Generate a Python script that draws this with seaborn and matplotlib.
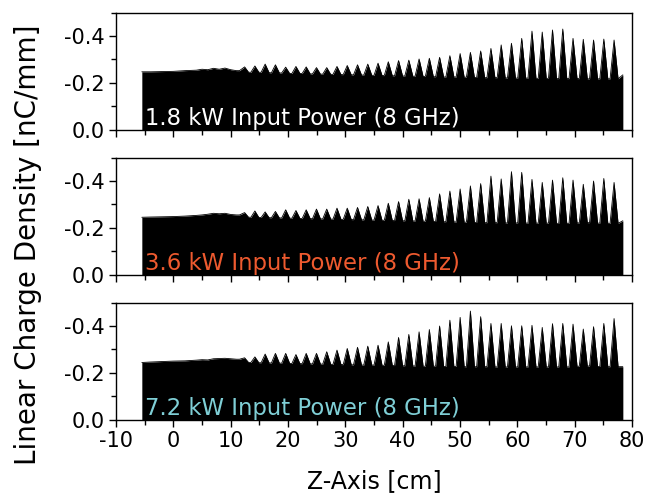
import numpy as np
import pandas as pd
import matplotlib
matplotlib.use("Agg")
import matplotlib.pyplot as plt
from matplotlib.ticker import MultipleLocator
import seaborn as sns

# ── Data ──────────────────────────────────────────────────────────────────────
# flat, slightly noisy region before the periodic spikes start
plateau_x = [-5.5, -4, -2, 0, 2, 4, 5, 6, 7, 8, 9, 10, 11]
plateau_1 = [-0.247, -0.247, -0.248, -0.249, -0.252, -0.254, -0.258, -0.256, -0.262, -0.258, -0.263, -0.256, -0.252]
plateau_2 = [-0.245, -0.246, -0.247, -0.248, -0.250, -0.253, -0.255, -0.258, -0.262, -0.260, -0.262, -0.257, -0.255]
plateau_3 = [-0.244, -0.246, -0.248, -0.250, -0.251, -0.254, -0.256, -0.255, -0.260, -0.261, -0.262, -0.260, -0.258]

# positions of the charge spikes (cm)
peak_x = [12.43, 14.22, 16.01, 17.80, 19.59, 21.38, 23.17, 24.96, 26.75, 28.54,
          30.33, 32.12, 33.91, 35.70, 37.49, 39.28, 41.07, 42.86, 44.65, 46.44,
          48.23, 50.02, 51.81, 53.60, 55.39, 57.18, 58.97, 60.76, 62.55, 64.34,
          66.13, 67.92, 69.71, 71.50, 73.29, 75.08, 76.87]

peak_1 = [-0.268, -0.272, -0.280, -0.277, -0.267, -0.270, -0.268, -0.265, -0.265, -0.270,
          -0.274, -0.277, -0.280, -0.284, -0.290, -0.295, -0.297, -0.302, -0.305, -0.309,
          -0.316, -0.325, -0.330, -0.336, -0.347, -0.362, -0.369, -0.390, -0.421, -0.417,
          -0.426, -0.430, -0.390, -0.386, -0.383, -0.387, -0.383]
peak_2 = [-0.265, -0.272, -0.268, -0.270, -0.277, -0.274, -0.277, -0.280, -0.280, -0.284,
          -0.284, -0.287, -0.291, -0.295, -0.305, -0.312, -0.322, -0.324, -0.329, -0.345,
          -0.357, -0.366, -0.379, -0.389, -0.421, -0.409, -0.440, -0.437, -0.407, -0.394,
          -0.404, -0.414, -0.404, -0.386, -0.400, -0.411, -0.394]
peak_3 = [-0.264, -0.268, -0.280, -0.283, -0.283, -0.278, -0.283, -0.283, -0.290, -0.297,
          -0.304, -0.309, -0.314, -0.318, -0.332, -0.351, -0.364, -0.375, -0.385, -0.400,
          -0.425, -0.437, -0.464, -0.440, -0.411, -0.411, -0.401, -0.401, -0.403, -0.394,
          -0.410, -0.411, -0.408, -0.387, -0.397, -0.411, -0.432]

# level between neighbouring spikes (after each spike)
valley_1 = [-0.245, -0.245, -0.243, -0.242, -0.240, -0.240, -0.238, -0.237, -0.236, -0.235,
            -0.234, -0.233, -0.232, -0.231, -0.230, -0.229, -0.228, -0.227, -0.226, -0.225,
            -0.225, -0.224, -0.223, -0.222, -0.222, -0.221, -0.220, -0.220, -0.219, -0.219,
            -0.218, -0.218, -0.218, -0.217, -0.217, -0.217, -0.217]
valley_2 = [-0.245, -0.244, -0.243, -0.242, -0.241, -0.240, -0.239, -0.238, -0.237, -0.236,
            -0.235, -0.234, -0.233, -0.232, -0.231, -0.230, -0.229, -0.228, -0.227, -0.226,
            -0.225, -0.224, -0.223, -0.222, -0.222, -0.221, -0.221, -0.220, -0.220, -0.220,
            -0.219, -0.219, -0.221, -0.222, -0.220, -0.219, -0.219]
valley_3 = [-0.244, -0.243, -0.242, -0.241, -0.240, -0.239, -0.238, -0.237, -0.236, -0.235,
            -0.234, -0.233, -0.233, -0.232, -0.231, -0.230, -0.229, -0.228, -0.228, -0.227,
            -0.227, -0.226, -0.226, -0.226, -0.225, -0.225, -0.225, -0.225, -0.225, -0.225,
            -0.225, -0.225, -0.228, -0.229, -0.227, -0.226, -0.226]

end_x = 78.4
end_y = [-0.234, -0.230, -0.226]

labels = ["1.8 kW Input Power (8 GHz)", "3.6 kW Input Power (8 GHz)", "7.2 kW Input Power (8 GHz)"]
label_colors = ["white", "#EE5a2f", "#7FCFD6"]

SPIKE_HALF_WIDTH = 0.7  # cm, shape of each spike

def build_trace(plateau, peaks, valleys, last):
    xs, ys = list(plateau_x), list(plateau)
    for i, (px, py, vy) in enumerate(zip(peak_x, peaks, valleys)):
        xs += [px - SPIKE_HALF_WIDTH if i else px - 0.9, px, px + SPIKE_HALF_WIDTH]
        ys += [ys[-1] if i == 0 else valleys[i - 1], py, vy]
    xs.append(end_x)
    ys.append(last)
    return pd.DataFrame({"z": xs, "rho": ys})

traces = [build_trace(plateau_1, peak_1, valley_1, end_y[0]),
          build_trace(plateau_2, peak_2, valley_2, end_y[1]),
          build_trace(plateau_3, peak_3, valley_3, end_y[2])]

# ── Figure ───────────────────────────────────────────────────────────────────
sns.set_theme(style="ticks")
plt.rcParams["font.family"] = ["DejaVu Sans"]
plt.rcParams["axes.unicode_minus"] = False
plt.rcParams["text.color"] = "black"

fig, axes = plt.subplots(3, 1, figsize=(6.6, 4.94), dpi=100, sharex=True)
fig.subplots_adjust(left=0.1758, right=0.9576, top=0.9743, bottom=0.1508, hspace=0.241)

for ax, df, lab, col in zip(axes, traces, labels, label_colors):
    ax.fill_between(df["z"], 0, df["rho"], color="black", lw=0)
    sns.lineplot(data=df, x="z", y="rho", ax=ax, color="black", lw=0.6, sort=False)
    ax.set_xlim(-10, 80)
    ax.set_ylim(0, -0.5)
    ax.set_yticks([0, -0.2, -0.4])
    ax.set_yticklabels(["0.0", "-0.2", "-0.4"])
    ax.yaxis.set_minor_locator(MultipleLocator(0.1))
    ax.xaxis.set_major_locator(MultipleLocator(10))
    ax.xaxis.set_minor_locator(MultipleLocator(5))
    ax.tick_params(axis="both", which="major", direction="out", length=5, width=1,
                   labelsize=15, pad=3, colors="black")
    ax.tick_params(axis="both", which="minor", direction="out", length=3.5, width=1,
                   colors="black")
    ax.set_xlabel("")
    ax.set_ylabel("")
    for sp in ax.spines.values():
        sp.set_visible(True)
        sp.set_linewidth(1)
        sp.set_color("black")
    ax.text(0.056, 0.035, lab, transform=ax.transAxes, color=col, fontsize=16.4,
            ha="left", va="baseline")

fig.text(0.567, 0.026, "Z-Axis [cm]", fontsize=17, ha="center", va="center",
         color="black")
fig.text(0.042, 0.504, "Linear Charge Density [nC/mm]", fontsize=20,
         rotation=90, ha="center", va="center", color="black")

fig.savefig("out.png", dpi=100)
